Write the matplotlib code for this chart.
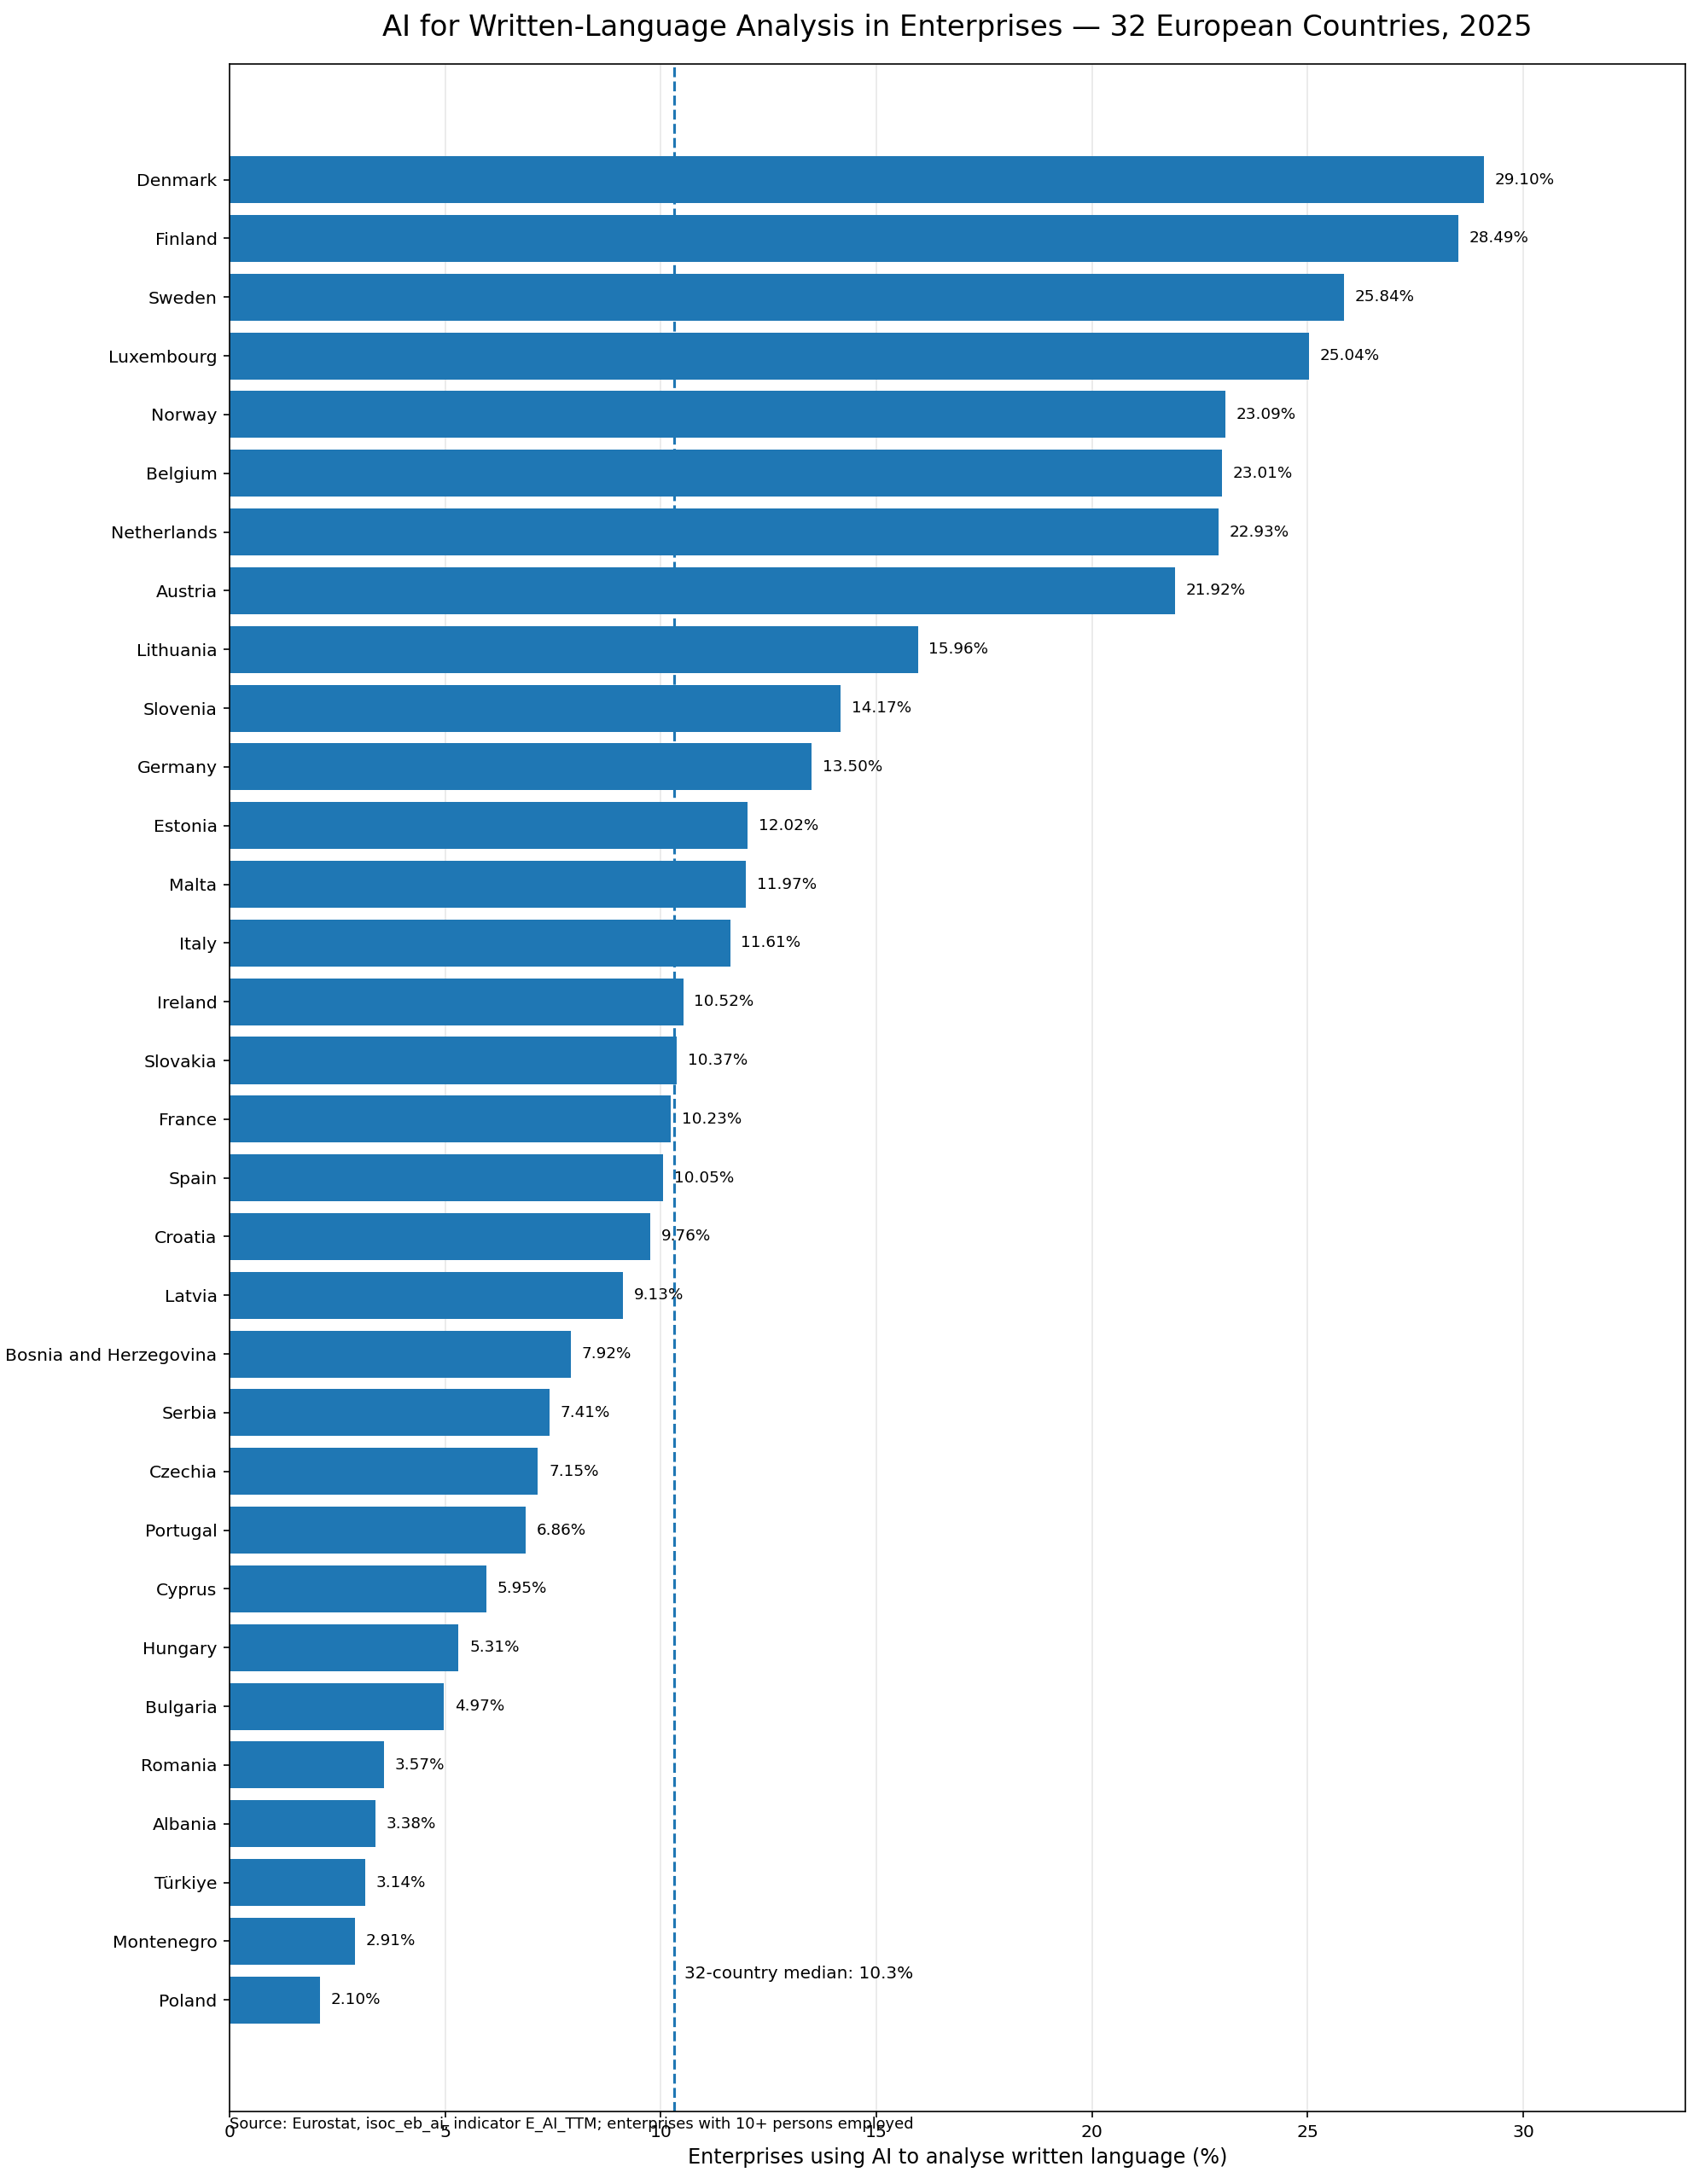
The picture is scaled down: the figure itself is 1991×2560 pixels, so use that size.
import matplotlib.pyplot as plt
import numpy as np

countries = ['Denmark', 'Finland', 'Sweden', 'Luxembourg', 'Norway', 'Belgium', 'Netherlands',
             'Austria', 'Lithuania', 'Slovenia', 'Germany', 'Estonia', 'Malta', 'Italy', 'Ireland',
             'Slovakia', 'France', 'Spain', 'Croatia', 'Latvia', 'Bosnia and Herzegovina', 'Serbia',
             'Czechia', 'Portugal', 'Cyprus', 'Hungary', 'Bulgaria', 'Romania', 'Albania',
             'Türkiye', 'Montenegro', 'Poland']
values = [29.10, 28.49, 25.84, 25.04, 23.09, 23.01, 22.93, 21.92, 15.96, 14.17, 13.50, 12.02,
          11.97, 11.61, 10.52, 10.37, 10.23, 10.05, 9.76, 9.13, 7.92, 7.41, 7.15, 6.86, 5.95,
          5.31, 4.97, 3.57, 3.38, 3.14, 2.91, 2.10]
median = 10.3

fig, ax = plt.subplots(figsize=(1991 / 150, 2560 / 150), dpi=150)

y = np.arange(len(countries))[::-1]
ax.barh(y, values, height=0.8, color='#1f77b4')
for yi, v in zip(y, values):
    ax.text(v + 0.25, yi, f'{v:.2f}%', va='center', ha='left', fontsize=8.8)

ax.axvline(median, color='#1f77b4', linestyle='--', linewidth=1.5)
ax.text(median + 0.25, 0.45, f'32-country median: {median}%', va='center', ha='left', fontsize=9.6)

ax.set_yticks(y)
ax.set_yticklabels(countries, fontsize=9.8)
ax.tick_params(axis='x', labelsize=9.8)
ax.set_xlim(0, max(values) * 1.16)
ax.set_ylim(-1.9, 32.97)
ax.set_xlabel('Enterprises using AI to analyse written language (%)', fontsize=11.5)
ax.set_title('AI for Written-Language Analysis in Enterprises — 32 European Countries, 2025',
             fontsize=16.2, pad=16)
ax.grid(axis='x', alpha=0.3)
ax.set_axisbelow(True)

plt.subplots_adjust(left=0.1352, right=0.9918, top=0.9707, bottom=0.0332)
fig.text(0.1352, 0.0273, 'Source: Eurostat, isoc_eb_ai, indicator E_AI_TTM; enterprises with 10+ persons employed',
         fontsize=8.6, ha='left', va='center')

plt.savefig('out.png', dpi=150)
